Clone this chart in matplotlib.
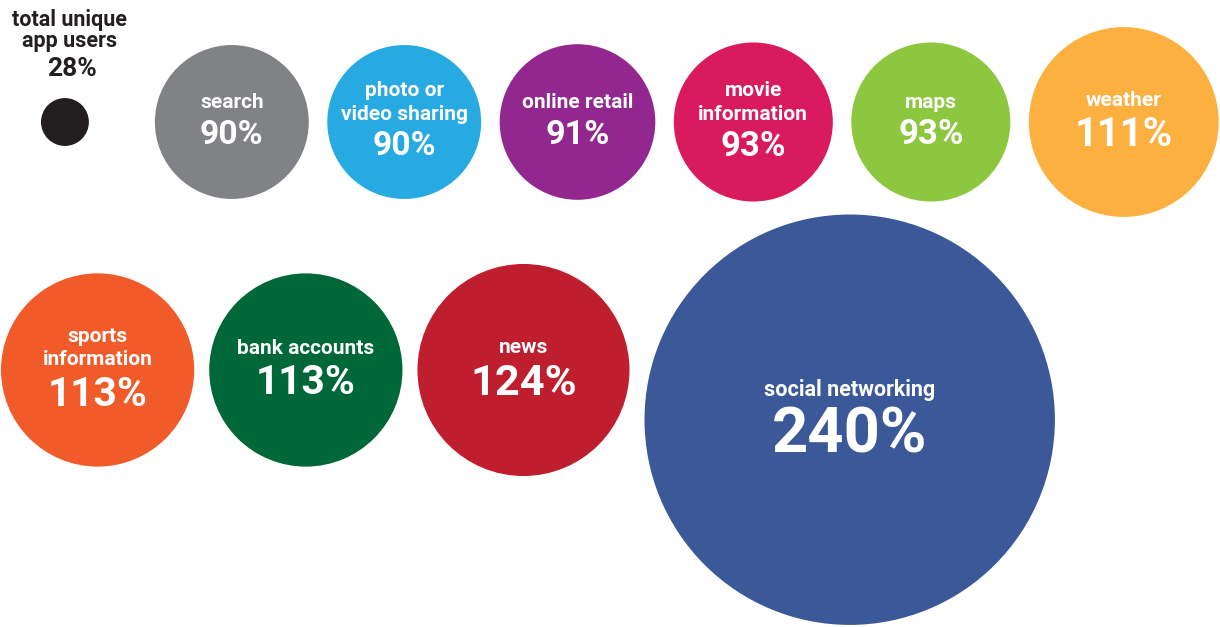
import numpy as np
import matplotlib.pyplot as plt
from matplotlib.patches import Circle

# Dados: crescimento do uso de apps por categoria
categorias_topo = ["search", "photo or\nvideo sharing", "online retail",
                   "movie\ninformation", "maps", "weather"]
valores_topo = [90, 90, 91, 93, 93, 111]
cores_topo = ["#808285", "#27aae1", "#92278f", "#d91a5d", "#8dc63f", "#fbb040"]

categorias_base = ["sports\ninformation", "bank accounts", "news", "social networking"]
valores_base = [113, 113, 124, 240]
cores_base = ["#f15a29", "#006838", "#be1e2d", "#3b5998"]

total_rotulo = "total unique\napp users"
total_valor = 28
total_cor = "#231f20"

W, H = 1220, 627
ESCALA = 0.855      # raio em px por ponto percentual
FONTE = ["Roboto", "DejaVu Sans"]

fig = plt.figure(figsize=(W / 100, H / 100), dpi=100)
ax = fig.add_axes([0, 0, 1, 1])
ax.set_xlim(0, W)
ax.set_ylim(H, 0)
ax.set_aspect("equal")
ax.axis("off")


def bolha(cx, cy, valor, cor, rotulo):
    r = valor * ESCALA
    ax.add_patch(Circle((cx, cy), r, color=cor, lw=0))
    linhas = rotulo.split("\n")
    # altura das maiúsculas do percentual (px) cresce com o valor
    cap = -72.3 + 21.4 * np.log(valor)
    tam_pct = cap / 0.711 / 1.389
    tam_rot = 15 if valor < 200 else 15.5
    asc = 0.711 * tam_rot * 1.389
    passo = 23.5
    gap = cap + 11.5
    bloco = asc + (len(linhas) - 1) * passo + gap
    topo = cy - 3.5 - bloco / 2
    base = topo + asc
    for i, lin in enumerate(linhas):
        ax.text(cx, base + i * passo, lin, color="white", ha="center", va="baseline",
                fontsize=tam_rot, fontweight="bold", family=FONTE)
    base_pct = base + (len(linhas) - 1) * passo + gap
    ax.text(cx, base_pct, f"{valor}%", color="white", ha="center", va="baseline",
            fontsize=tam_pct, fontweight="bold", family=FONTE)
    return r


# círculo do total e seu rótulo acima
r0 = total_valor * ESCALA
cy1 = 122
cx0 = 41 + r0
ax.add_patch(Circle((cx0, cy1), r0, color=total_cor, lw=0))
for i, lin in enumerate(total_rotulo.split("\n")):
    ax.text(cx0 + 5, 26 + i * 21, lin, color=total_cor, ha="center", va="baseline",
            fontsize=15.5, fontweight="bold", family=FONTE)
ax.text(cx0 + 7, 76, f"{total_valor}%", color=total_cor, ha="center", va="baseline",
        fontsize=19, fontweight="bold", family=FONTE)

# linha de cima
x = cx0 + r0 + 66
for rot, v, c in zip(categorias_topo, valores_topo, cores_topo):
    r = v * ESCALA
    bolha(x + r, cy1, v, c, rot)
    x += 2 * r + 18.5
fundo_topo = cy1 + max(valores_topo[:-1]) * ESCALA

# linha de baixo
cy2 = 370
x = 1
for rot, v, c in zip(categorias_base, valores_base, cores_base):
    r = v * ESCALA
    cy = max(cy2, fundo_topo + 13 + r)
    bolha(x + r, cy, v, c, rot)
    x += 2 * r + 15

fig.savefig("out.png", dpi=100)
